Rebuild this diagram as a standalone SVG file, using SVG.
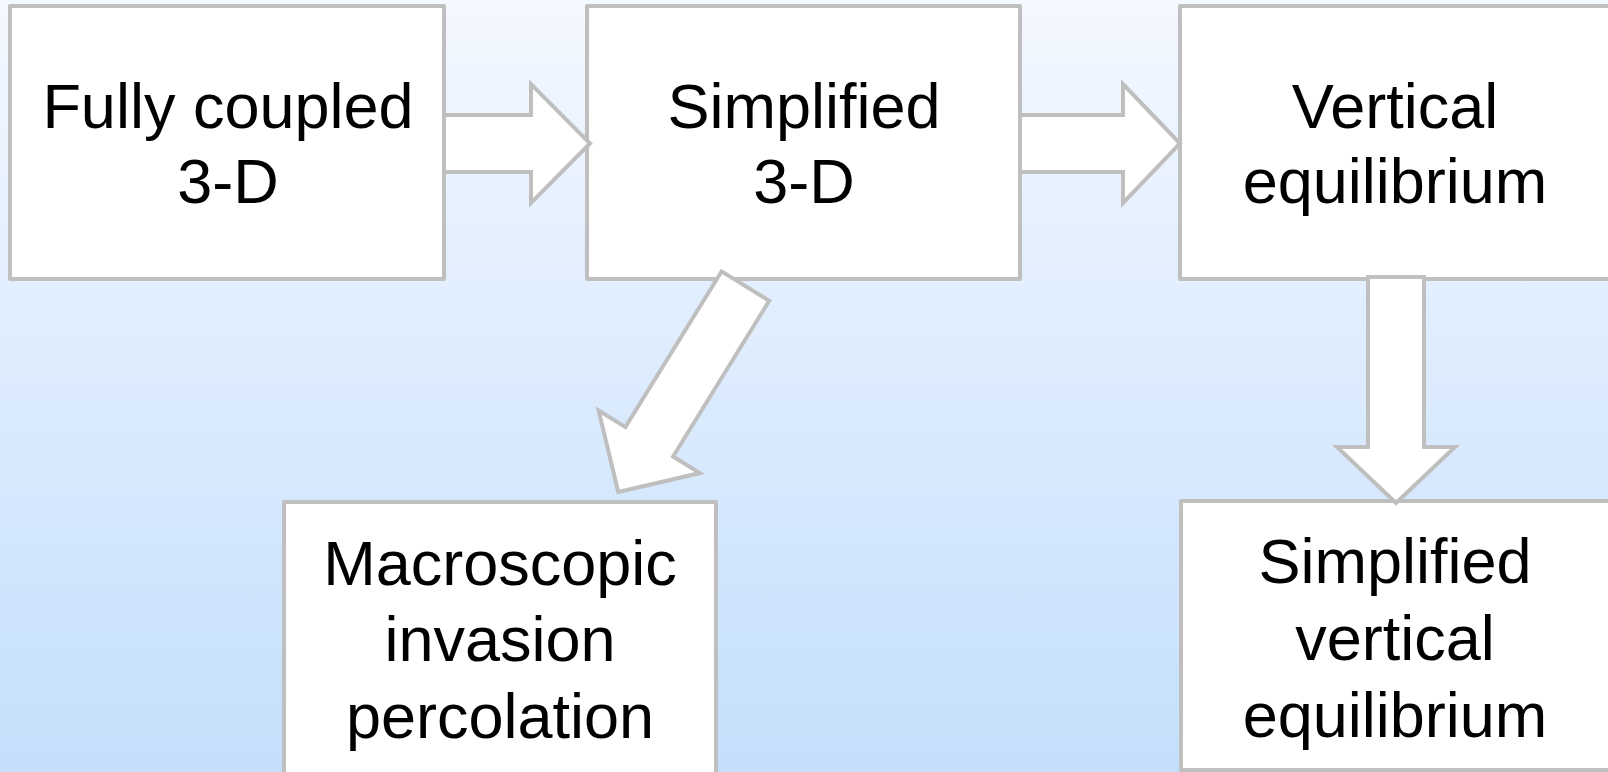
<svg xmlns="http://www.w3.org/2000/svg" width="1608" height="772" viewBox="0 0 1608 772">
  <defs>
    <linearGradient id="bg" x1="0" y1="0" x2="0" y2="1">
      <stop offset="0" stop-color="#F4F8FF"/>
      <stop offset="1" stop-color="#C4DFFC"/>
    </linearGradient>
    <style>
      .box { fill: #FFFFFF; stroke: #BFBFBF; stroke-width: 4; stroke-linejoin: round; }
      .arrow { fill: #FFFFFF; stroke: #BFBFBF; stroke-width: 4; stroke-linejoin: miter; }
      .lbl { font-family: "Liberation Sans", Arial, sans-serif; font-size: 63px; fill: #000000; text-anchor: middle; }
    </style>
  </defs>
  <rect x="0" y="0" width="1608" height="772" fill="url(#bg)"/>

  <g id="node-fully-coupled">
    <rect class="box" x="10" y="6" width="434" height="273"/>
    <text class="lbl" x="228" y="128">Fully coupled</text>
    <text class="lbl" x="228" y="203">3-D</text>
  </g>
  <g id="node-simplified-3d">
    <rect class="box" x="587" y="6" width="433" height="273"/>
    <text class="lbl" x="804" y="128">Simplified</text>
    <text class="lbl" x="804" y="203">3-D</text>
  </g>
  <g id="node-vertical-equilibrium">
    <rect class="box" x="1180" y="6" width="432" height="273"/>
    <text class="lbl" x="1395" y="128">Vertical</text>
    <text class="lbl" x="1395" y="203">equilibrium</text>
  </g>
  <g id="node-macroscopic">
    <rect class="box" x="284" y="502" width="432" height="276"/>
    <text class="lbl" x="500" y="585">Macroscopic</text>
    <text class="lbl" x="500" y="661">invasion</text>
    <text class="lbl" x="500" y="738">percolation</text>
  </g>
  <g id="node-simplified-ve">
    <rect class="box" x="1181" y="501" width="431" height="269"/>
    <text class="lbl" x="1395" y="583">Simplified</text>
    <text class="lbl" x="1395" y="660">vertical</text>
    <text class="lbl" x="1395" y="737">equilibrium</text>
  </g>

  <g id="connectors">
    <polygon class="arrow" points="444,115 531,115 531,84 590,143.5 531,203 531,172 444,172"/>
    <polygon class="arrow" points="1020,115 1123,115 1123,84 1180,143.5 1123,203 1123,172 1020,172"/>
    <polygon class="arrow" points="1368,277 1368,447 1337,447 1396,503 1455,447 1424,447 1424,277"/>
    <polygon class="arrow" transform="translate(745.4,286.1) rotate(121.7)" points="0,-28 183,-28 183,-59.5 242,0 183,59.5 183,28 0,28"/>
  </g>
</svg>
